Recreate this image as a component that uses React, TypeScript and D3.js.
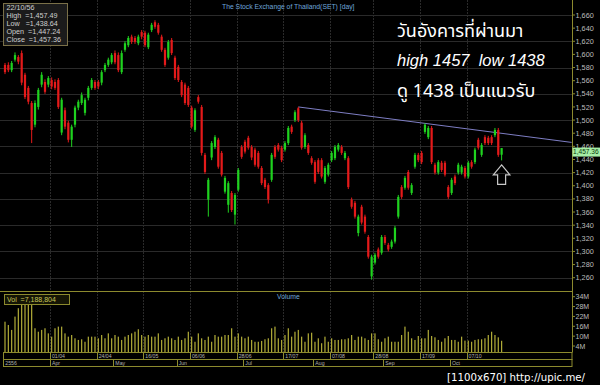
import React, { useEffect } from 'react';
import * as d3 from 'd3';

const W = 600;
const H = 385;

const opens = [
  1584, 1584, 1576, 1592, 1596, 1602, 1569, 1549, 1526, 1493,
  1520, 1554, 1558, 1554, 1561, 1558, 1561, 1481, 1515, 1496,
  1470, 1493, 1519, 1526, 1511, 1534, 1549, 1558, 1558, 1557,
  1576, 1584, 1588, 1602, 1599, 1573, 1607, 1614, 1627, 1625,
  1617, 1634, 1633, 1611, 1637, 1649, 1645, 1627, 1607, 1595,
  1622, 1595, 1581, 1558, 1554, 1549, 1519, 1485, 1535, 1520,
  1447, 1379, 1443, 1459, 1470, 1450, 1391, 1371, 1389, 1356,
  1394, 1459, 1467, 1473, 1459, 1455, 1450, 1427, 1409, 1401,
  1409, 1459, 1462, 1458, 1455, 1465, 1490, 1500, 1518, 1496,
  1459, 1462, 1442, 1436, 1439, 1439, 1406, 1417, 1439, 1442,
  1455, 1459, 1442, 1442, 1379, 1374, 1328, 1368, 1353, 1322,
  1262, 1283, 1303, 1298, 1322, 1310, 1307, 1315, 1353, 1398,
  1397, 1421, 1389, 1429, 1447, 1450, 1482, 1474, 1488, 1432,
  1420, 1435, 1435, 1398, 1389, 1414, 1420, 1420, 1427, 1414,
  1436, 1436, 1470, 1447, 1474, 1473, 1474, 1477, 1485, 1447.24,
];
const highs = [
  1587, 1588, 1590, 1603, 1599, 1606, 1572, 1552, 1529, 1530,
  1549, 1573, 1562, 1567, 1565, 1562, 1564, 1534, 1519, 1499,
  1493, 1522, 1531, 1542, 1534, 1552, 1564, 1561, 1561, 1576,
  1587, 1595, 1602, 1606, 1603, 1606, 1620, 1628, 1630, 1628,
  1630, 1637, 1636, 1633, 1648, 1652, 1648, 1630, 1610, 1622,
  1625, 1598, 1584, 1561, 1557, 1552, 1522, 1518, 1538, 1523,
  1450, 1412, 1468, 1477, 1473, 1453, 1415, 1407, 1392, 1389,
  1427, 1462, 1470, 1476, 1462, 1458, 1453, 1430, 1412, 1404,
  1450, 1462, 1465, 1461, 1468, 1491, 1493, 1515, 1520, 1499,
  1480, 1465, 1445, 1439, 1442, 1442, 1430, 1435, 1453, 1462,
  1465, 1462, 1453, 1445, 1382, 1377, 1356, 1371, 1356, 1325,
  1295, 1298, 1306, 1325, 1325, 1313, 1318, 1339, 1386, 1401,
  1415, 1424, 1404, 1450, 1450, 1453, 1495, 1491, 1491, 1435,
  1439, 1438, 1438, 1401, 1412, 1417, 1435, 1432, 1430, 1438,
  1439, 1458, 1473, 1465, 1477, 1476, 1477, 1488, 1488, 1457.49,
];
const lows = [
  1570, 1573, 1573, 1589, 1585, 1553, 1532, 1524, 1465, 1489,
  1516, 1550, 1540, 1550, 1547, 1546, 1517, 1477, 1486, 1466,
  1459, 1489, 1515, 1523, 1507, 1530, 1546, 1546, 1547, 1553,
  1573, 1581, 1585, 1585, 1573, 1570, 1604, 1611, 1616, 1616,
  1614, 1623, 1611, 1608, 1634, 1639, 1630, 1604, 1581, 1592,
  1599, 1561, 1558, 1535, 1523, 1520, 1487, 1482, 1525, 1446,
  1418, 1353, 1439, 1456, 1426, 1414, 1388, 1359, 1360, 1341,
  1391, 1441, 1449, 1455, 1439, 1429, 1426, 1401, 1395, 1373,
  1406, 1441, 1452, 1436, 1452, 1462, 1479, 1497, 1497, 1455,
  1456, 1447, 1432, 1403, 1418, 1411, 1403, 1414, 1436, 1439,
  1452, 1447, 1439, 1395, 1365, 1350, 1323, 1341, 1327, 1289,
  1257, 1280, 1289, 1295, 1310, 1300, 1304, 1312, 1350, 1380,
  1394, 1394, 1386, 1426, 1436, 1433, 1479, 1471, 1433, 1417,
  1417, 1421, 1414, 1380, 1386, 1401, 1417, 1417, 1411, 1411,
  1426, 1433, 1455, 1444, 1462, 1462, 1462, 1474, 1444, 1438.64,
];
const closes = [
  1573, 1576, 1587, 1599, 1589, 1557, 1535, 1528, 1485, 1526,
  1546, 1569, 1543, 1564, 1551, 1549, 1520, 1531, 1490, 1470,
  1490, 1519, 1528, 1538, 1531, 1549, 1561, 1549, 1551, 1573,
  1584, 1592, 1599, 1588, 1576, 1602, 1617, 1625, 1619, 1619,
  1627, 1627, 1614, 1630, 1645, 1642, 1633, 1607, 1584, 1619,
  1602, 1564, 1561, 1538, 1526, 1523, 1490, 1515, 1528, 1450,
  1421, 1409, 1465, 1474, 1429, 1417, 1412, 1404, 1363, 1386,
  1424, 1444, 1452, 1458, 1443, 1432, 1429, 1404, 1398, 1379,
  1447, 1444, 1455, 1439, 1465, 1488, 1482, 1512, 1500, 1458,
  1477, 1450, 1435, 1406, 1421, 1414, 1427, 1432, 1450, 1459,
  1462, 1450, 1450, 1398, 1368, 1353, 1353, 1344, 1330, 1292,
  1292, 1295, 1292, 1322, 1313, 1303, 1315, 1336, 1383, 1383,
  1412, 1397, 1401, 1447, 1439, 1436, 1493, 1488, 1436, 1420,
  1436, 1424, 1417, 1383, 1409, 1404, 1432, 1429, 1414, 1435,
  1429, 1455, 1458, 1462, 1465, 1465, 1465, 1485, 1447, 1457.36,
];
// volume in millions of shares
const volumes = [
  18.8, 16.8, 13.8, 21.9, 27, 30, 32, 31, 31, 14.8,
  12.7, 13.8, 14.8, 11.7, 9.7, 14.8, 15.8, 15.8, 11.7, 9.7,
  10.7, 8.7, 7.7, 8.1, 6.6, 9.7, 9.7, 9.7, 8.7, 10.7,
  8.7, 11.7, 8.7, 10.7, 9.7, 7.7, 9.7, 10.7, 11.7, 12.7,
  14.2, 10.7, 9.7, 10.7, 9.7, 9.7, 11.7, 7.7, 8.7, 9.7,
  8.7, 7.7, 9.7, 7.7, 8.7, 12.7, 9.7, 6.6, 11.7, 8.7,
  7.7, 9.7, 6.6, 10.7, 9.7, 9.7, 10.7, 10.7, 14.8, 9.7,
  11.7, 9.7, 8.7, 9.7, 7.7, 6.6, 6.6, 7.1, 8.1, 8.7,
  14.8, 15.8, 8.7, 7.7, 10.7, 14.8, 9.7, 12.7, 13.8, 9.7,
  6.6, 11.7, 12.1, 6.6, 8.7, 5.7, 9.7, 6.6, 8.7, 7.7,
  7.7, 8.1, 8.1, 8.7, 10.7, 7.7, 9.7, 9.7, 8.7, 7.7,
  11.7, 11.7, 8.1, 6.6, 8.7, 9.7, 6.6, 6.6, 6.6, 10.7,
  15.8, 12.7, 8.7, 7.7, 10.1, 8.7, 8.7, 13.8, 10.1, 9.3,
  7.7, 6.6, 8.7, 10.1, 7.7, 7.7, 6.6, 9.7, 7.3, 7.3,
  6.6, 7.7, 8.1, 8.1, 8.7, 10.7, 12.7, 10.7, 9.3, 7.188804,
];

const priceTicks = [1260, 1280, 1300, 1320, 1340, 1360, 1380, 1400, 1420, 1440, 1460,
  1480, 1500, 1520, 1540, 1560, 1580, 1600, 1620, 1640, 1660];
const priceGrid = [1260, 1300, 1340, 1380, 1420, 1460, 1500, 1540, 1580, 1620, 1660];
const volumeTicks = [4, 10, 16, 22, 28, 34];
const dayTickIndex = [14, 28, 42, 56, 70, 84, 98, 111, 125, 139];
const dayTickLabels = ['01/04', '24/04', '16/05', '06/06', '28/06', '17/07', '07/08', '28/08', '17/09', '07/10'];
const monthIndex = [0, 14, 33, 52, 72, 93, 114, 134];
const monthLabels = ['2556', 'Apr', 'May', 'Jun', 'Jul', 'Aug', 'Sep', 'Oct'];
// resistance trend line: [candle index, price]
const trendIndex = [88, 170];
const trendPrice = [1520, 1466];

const noteLines = ['วันอังคารที่ผ่านมา', 'high 1457  low 1438', 'ดู 1438 เป็นแนวรับ'];

const fmt = d3.format(',');
const fmt2 = d3.format(',.2f');

export default function App() {
  useEffect(() => {
    document.body.style.margin = '0';
    document.body.style.background = '#000';
  }, []);

  const N = closes.length;
  const idx = d3.range(N);
  const AXIS_X = 572;
  const x = d3.scaleLinear().domain([0, N - 1]).range([5, 5 + 3.333 * (N - 1)]);
  const y = d3.scaleLinear().domain([1260, 1660]).range([277.7, 15]);
  const yv = d3.scaleLinear().domain([0, 34]).range([352.6, 296.7]);

  const GREEN = '#1fd21f';
  const RED = '#e41a1a';
  const OLIVE = '#8c8a2e';
  const sans = "Arial, 'Liberation Sans', sans-serif";
  const thai = "Tahoma, 'Noto Sans Thai', Loma, Garuda, 'DejaVu Sans', sans-serif";

  const last = N - 1;
  const ax = x(last);
  const ay = y(lows[last]) + 4.5;
  const arrowPath = d3.path();
  arrowPath.moveTo(ax, ay);
  arrowPath.lineTo(ax + 8.3, ay + 10);
  arrowPath.lineTo(ax + 4, ay + 10);
  arrowPath.lineTo(ax + 4, ay + 19.5);
  arrowPath.lineTo(ax - 4, ay + 19.5);
  arrowPath.lineTo(ax - 4, ay + 10);
  arrowPath.lineTo(ax - 8.3, ay + 10);
  arrowPath.closePath();

  const trendLine = d3.line<number>()
    .x((d) => x(trendIndex[d]))
    .y((d) => y(trendPrice[d]));

  const row1Y = 352.5;
  const row2Y = 359.5;

  return (
    <svg width={W} height={H} style={{ position: 'absolute', left: 0, top: 0, display: 'block', background: '#000' }}>
      <rect x={0} y={0} width={W} height={H} fill="#000" />
      {/* horizontal grid */}
      {priceGrid.map((p) => (
        <line key={'hg' + p} x1={0} x2={AXIS_X} y1={Math.round(y(p)) + 0.5} y2={Math.round(y(p)) + 0.5} stroke="#2a2a2a" strokeWidth={1} />
      ))}
      {/* vertical grid */}
      {dayTickIndex.map((i) => (
        <line key={'vg' + i} x1={Math.round(x(i - 0.5)) + 0.5} x2={Math.round(x(i - 0.5)) + 0.5} y1={0} y2={row1Y} stroke="#2a2a2a" strokeWidth={1} strokeDasharray="2,1" />
      ))}

      {/* title */}
      <text x={222} y={8.5} fontFamily={sans} fontSize={6.8} fill="#6fa6dc">The Stock Exchange of Thailand(SET) [day]</text>

      {/* trend line */}
      <path d={trendLine([0, 1]) || ''} stroke="#7e7ec4" strokeWidth={1} fill="none" />

      {/* candles */}
      {idx.map((i) => {
        const up = closes[i] >= opens[i];
        const c = up ? GREEN : RED;
        const top = y(Math.max(opens[i], closes[i]));
        const bot = y(Math.min(opens[i], closes[i]));
        return (
          <g key={'c' + i}>
            <line x1={x(i)} x2={x(i)} y1={y(highs[i])} y2={y(lows[i])} stroke={c} strokeWidth={1} />
            <rect x={x(i) - 1.1} y={top} width={2.2} height={Math.max(1, bot - top)} fill={c} />
          </g>
        );
      })}

      {/* info box */}
      <rect x={3.5} y={3.5} width={64} height={42} fill="#1b1b1b" stroke="#7a7048" strokeWidth={1} />
      {[
        '22/10/56',
        'High  =' + fmt2(highs[last]),
        'Low   =' + fmt2(lows[last]),
        'Open  =' + fmt2(opens[last]),
        'Close  =' + fmt2(closes[last]),
      ].map((t, k) => (
        <text key={'info' + k} x={6.5} y={10 + k * 8} fontFamily={sans} fontSize={7.2} fill="#cfcfcf" style={{ whiteSpace: 'pre' }}>{t}</text>
      ))}

      {/* annotation text */}
      <text x={397} y={37} fontFamily={thai} fontSize={18} fill="#fff">{noteLines[0]}</text>
      <text x={397} y={65.5} fontFamily={sans} fontSize={16.5} fontStyle="italic" fill="#fff" style={{ whiteSpace: 'pre' }}>{noteLines[1]}</text>
      <text x={397} y={97} fontFamily={thai} fontSize={18} fill="#fff">{noteLines[2]}</text>

      {/* arrow */}
      <path d={arrowPath.toString()} fill="none" stroke="#c8c8c8" strokeWidth={1.2} />

      {/* right axis */}
      <line x1={AXIS_X + 0.5} x2={AXIS_X + 0.5} y1={0} y2={row1Y} stroke={OLIVE} strokeWidth={1} />
      {priceTicks.map((p) => (
        <g key={'pt' + p}>
          <line x1={AXIS_X} x2={AXIS_X + 3} y1={y(p)} y2={y(p)} stroke={OLIVE} strokeWidth={1} />
          <text x={575.5} y={y(p) + 2.6} fontFamily={sans} fontSize={7.3} fill="#bdbdbd">{fmt(p)}</text>
        </g>
      ))}
      {/* last price label */}
      <rect x={AXIS_X + 0.5} y={y(closes[last]) - 0.5} width={27.5} height={9} fill="#a6eea6" />
      <text x={AXIS_X + 1} y={y(closes[last]) + 6.3} fontFamily={sans} fontSize={6.6} fill="#0a3a0a">{fmt2(closes[last])}</text>

      {/* volume panel */}
      <line x1={0} x2={AXIS_X} y1={291.5} y2={291.5} stroke={OLIVE} strokeWidth={1} />
      <text x={277} y={298.5} fontFamily={sans} fontSize={6.8} fill="#6fa6dc">Volume</text>
      {idx.map((i) => (
        <rect key={'v' + i} x={x(i) - 0.6} y={yv(volumes[i])} width={1.2} height={yv(0) - yv(volumes[i])} fill="#b2ad38" />
      ))}
      <rect x={4.5} y={294.5} width={65} height={10} fill="#151505" stroke={OLIVE} strokeWidth={1} />
      <text x={7} y={302} fontFamily={sans} fontSize={7} fill="#c9c65a" style={{ whiteSpace: 'pre' }}>{'Vol  =' + fmt(Math.round(volumes[last] * 1e6))}</text>
      {volumeTicks.map((v) => (
        <g key={'vt' + v}>
          <line x1={AXIS_X} x2={AXIS_X + 3} y1={yv(v)} y2={yv(v)} stroke={OLIVE} strokeWidth={1} />
          <text x={575.5} y={yv(v) + 2.5} fontFamily={sans} fontSize={7} fill="#bdbdbd">{v + 'M'}</text>
        </g>
      ))}

      {/* date axis rows */}
      <rect x={3.5} y={row1Y} width={AXIS_X - 3.5} height={7} fill="#000" stroke={OLIVE} strokeWidth={1} />
      <rect x={3.5} y={row2Y} width={AXIS_X - 3.5} height={7} fill="#000" stroke={OLIVE} strokeWidth={1} />
      {dayTickIndex.map((i, k) => (
        <g key={'dt' + i}>
          <line x1={Math.round(x(i - 0.5)) + 0.5} x2={Math.round(x(i - 0.5)) + 0.5} y1={row1Y} y2={row1Y + 7} stroke={OLIVE} strokeWidth={1} />
          <text x={x(i - 0.5) + 2} y={row1Y + 5.6} fontFamily={sans} fontSize={5.2} fill="#b0b0b0">{dayTickLabels[k]}</text>
        </g>
      ))}
      {monthIndex.map((i, k) => (
        <g key={'mt' + i}>
          <line x1={Math.round(x(i - 0.5)) + 0.5} x2={Math.round(x(i - 0.5)) + 0.5} y1={row2Y} y2={row2Y + 7} stroke={OLIVE} strokeWidth={1} />
          <text x={x(i - 0.5) + 2} y={row2Y + 5.6} fontFamily={sans} fontSize={5.2} fill="#b0b0b0">{monthLabels[k]}</text>
        </g>
      ))}

      {/* watermark */}
      <text x={447} y={381} fontFamily={"'DejaVu Sans', sans-serif"} fontSize={10.2} fill="#fff">[1100x670] http://upic.me/</text>
    </svg>
  );
}
